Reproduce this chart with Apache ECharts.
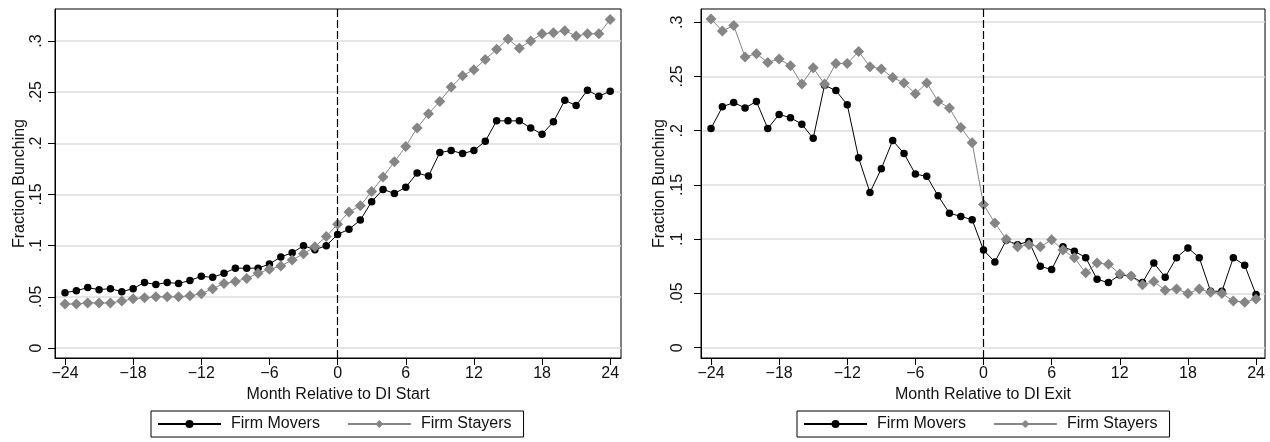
<!DOCTYPE html>
<html>
<head>
<meta charset="utf-8">
<script src="https://cdn.jsdelivr.net/npm/echarts@6/dist/echarts.min.js"></script>
<style>
  html, body { margin: 0; padding: 0; background: #fff; }
  #chart { width: 1270px; height: 442px; }
</style>
</head>
<body>
<div id="chart"></div>
<script>
// Months relative to the event
const months = [-24, -23, -22, -21, -20, -19, -18, -17, -16, -15, -14, -13, -12, -11, -10, -9, -8, -7, -6, -5, -4, -3, -2, -1,
  0, 1, 2, 3, 4, 5, 6, 7, 8, 9, 10, 11, 12, 13, 14, 15, 16, 17, 18, 19, 20, 21, 22, 23, 24];

// Panel 1: around DI start
const startMovers = [0.054, 0.056, 0.059, 0.057, 0.058, 0.055, 0.058, 0.064, 0.062, 0.064, 0.063, 0.066, 0.070, 0.069, 0.073, 0.078, 0.078, 0.078, 0.082, 0.089, 0.093, 0.100, 0.096, 0.100,
  0.111, 0.116, 0.125, 0.143, 0.155, 0.151, 0.157, 0.171, 0.168, 0.191, 0.193, 0.190, 0.193, 0.202, 0.222, 0.222, 0.222, 0.215, 0.209, 0.221, 0.242, 0.237, 0.252, 0.246, 0.251];
const startStayers = [0.043, 0.043, 0.044, 0.044, 0.044, 0.046, 0.048, 0.049, 0.050, 0.050, 0.050, 0.051, 0.053, 0.058, 0.063, 0.065, 0.068, 0.073, 0.077, 0.080, 0.086, 0.092, 0.099, 0.109,
  0.121, 0.133, 0.139, 0.153, 0.167, 0.182, 0.197, 0.215, 0.229, 0.241, 0.255, 0.266, 0.272, 0.282, 0.292, 0.302, 0.293, 0.300, 0.307, 0.308, 0.310, 0.305, 0.307, 0.307, 0.321];

// Panel 2: around DI exit
const exitMovers = [0.202, 0.222, 0.226, 0.221, 0.227, 0.202, 0.215, 0.212, 0.206, 0.193, 0.242, 0.237, 0.224, 0.175, 0.143, 0.165, 0.191, 0.179, 0.160, 0.158, 0.140, 0.124, 0.121, 0.118,
  0.090, 0.079, 0.099, 0.095, 0.098, 0.075, 0.072, 0.093, 0.089, 0.083, 0.063, 0.060, 0.067, 0.066, 0.060, 0.078, 0.065, 0.083, 0.092, 0.083, 0.052, 0.052, 0.083, 0.076, 0.049];
const exitStayers = [0.303, 0.292, 0.297, 0.268, 0.271, 0.263, 0.266, 0.260, 0.243, 0.258, 0.243, 0.262, 0.262, 0.273, 0.259, 0.257, 0.249, 0.244, 0.234, 0.244, 0.227, 0.221, 0.203, 0.189,
  0.132, 0.115, 0.100, 0.093, 0.095, 0.093, 0.0995, 0.090, 0.083, 0.069, 0.078, 0.077, 0.068, 0.066, 0.058, 0.061, 0.053, 0.054, 0.050, 0.054, 0.051, 0.050, 0.043, 0.042, 0.045];

// Tick values and their printed labels
const xTicks = [-24, -18, -12, -6, 0, 6, 12, 18, 24];
const xTickLabels = ['\u221224', '\u221218', '\u221212', '\u22126', '0', '6', '12', '18', '24'];
const yTicks = [0, 0.05, 0.1, 0.15, 0.2, 0.25, 0.3];
const yTickLabels = ['0', '.05', '.1', '.15', '.2', '.25', '.3'];

const seriesNames = ['Firm Movers', 'Firm Stayers'];
const xTitles = ['Month Relative to DI Start', 'Month Relative to DI Exit'];
const yTitle = 'Fraction Bunching';

const FONT = "'Liberation Sans', Arial, sans-serif";
const TEXT = '#111';
const MOVER_COLOR = '#000';
const STAYER_COLOR = '#858585';

function lookup(ticks, labels) {
  return function (v) {
    for (let i = 0; i < ticks.length; i++) {
      if (Math.abs(ticks[i] - v) < 1e-9) return labels[i];
    }
    return '';
  };
}

function pairs(values) {
  return months.map(function (m, i) { return [m, values[i]]; });
}

const panels = [
  { left: 55, width: 566, xMin: -24.88, xMax: 24.95, yMin: -0.0098, yMax: 0.3313, labelMargin: 10, nameGap: 27,
    movers: startMovers, stayers: startStayers, title: xTitles[0], legendLeft: 151 },
  { left: 701, width: 564, xMin: -24.88, xMax: 24.79, yMin: -0.0095, yMax: 0.3122, labelMargin: 15, nameGap: 33,
    movers: exitMovers, stayers: exitStayers, title: xTitles[1], legendLeft: 797 }
];

const grid = [], xAxis = [], yAxis = [], series = [], legend = [];

panels.forEach(function (p, k) {
  grid.push({
    left: p.left, top: 9, width: p.width, height: 349,
    show: true, borderColor: '#000', borderWidth: 1, backgroundColor: 'transparent'
  });
  xAxis.push({
    type: 'value', gridIndex: k, min: p.xMin, max: p.xMax,
    name: p.title, nameLocation: 'middle', nameGap: 23,
    nameTextStyle: { fontFamily: FONT, fontSize: 16, color: TEXT },
    axisLine: { show: true, onZero: false, lineStyle: { color: '#000', width: 1 } },
    axisTick: { show: true, length: 7, customValues: xTicks, lineStyle: { color: '#000', width: 1 } },
    axisLabel: { show: true, customValues: xTicks, margin: 8, fontFamily: FONT, fontSize: 16, color: TEXT,
      formatter: lookup(xTicks, xTickLabels) },
    splitLine: { show: false }
  });
  yAxis.push({
    type: 'value', gridIndex: k, min: p.yMin, max: p.yMax,
    name: yTitle, nameLocation: 'middle', nameGap: p.nameGap, nameRotate: 90,
    nameTextStyle: { fontFamily: FONT, fontSize: 16, color: TEXT },
    axisLine: { show: true, onZero: false, lineStyle: { color: '#000', width: 1 } },
    axisTick: { show: true, length: 7, customValues: yTicks, lineStyle: { color: '#000', width: 1 } },
    axisLabel: { show: true, customValues: yTicks, rotate: 90, margin: p.labelMargin, fontFamily: FONT, fontSize: 16, color: TEXT,
      formatter: lookup(yTicks, yTickLabels) },
    splitLine: { show: true, lineStyle: { color: '#dcdcdc', width: 1.5 } }
  });
  series.push({
    name: seriesNames[0], type: 'line', xAxisIndex: k, yAxisIndex: k,
    data: pairs(p.movers),
    symbol: 'circle', symbolSize: 7.5,
    itemStyle: { color: MOVER_COLOR },
    lineStyle: { color: MOVER_COLOR, width: 1 },
    markLine: {
      silent: true, symbol: 'none', label: { show: false },
      lineStyle: { color: '#000', type: [8, 3], width: 1.2 },
      data: [{ xAxis: 0 }]
    }
  });
  series.push({
    name: seriesNames[1], type: 'line', xAxisIndex: k, yAxisIndex: k,
    data: pairs(p.stayers),
    symbol: 'diamond', symbolSize: 11,
    itemStyle: { color: STAYER_COLOR },
    lineStyle: { color: STAYER_COLOR, width: 1 }
  });
  legend.push({
    left: p.legendLeft, top: 411,
    data: seriesNames,
    itemWidth: 63, itemHeight: 10, itemGap: 27,
    padding: [5, 12, 5, 6],
    borderColor: '#000', borderWidth: 1,
    selectedMode: false,
    textStyle: { fontFamily: FONT, fontSize: 16, color: TEXT, padding: [0, 0, 0, 5] }
  });
});

const chart = echarts.init(document.getElementById('chart'), null, { renderer: 'canvas' });
chart.setOption({
  animation: false,
  backgroundColor: '#fff',
  grid: grid, xAxis: xAxis, yAxis: yAxis, series: series, legend: legend
});
</script>
</body>
</html>
